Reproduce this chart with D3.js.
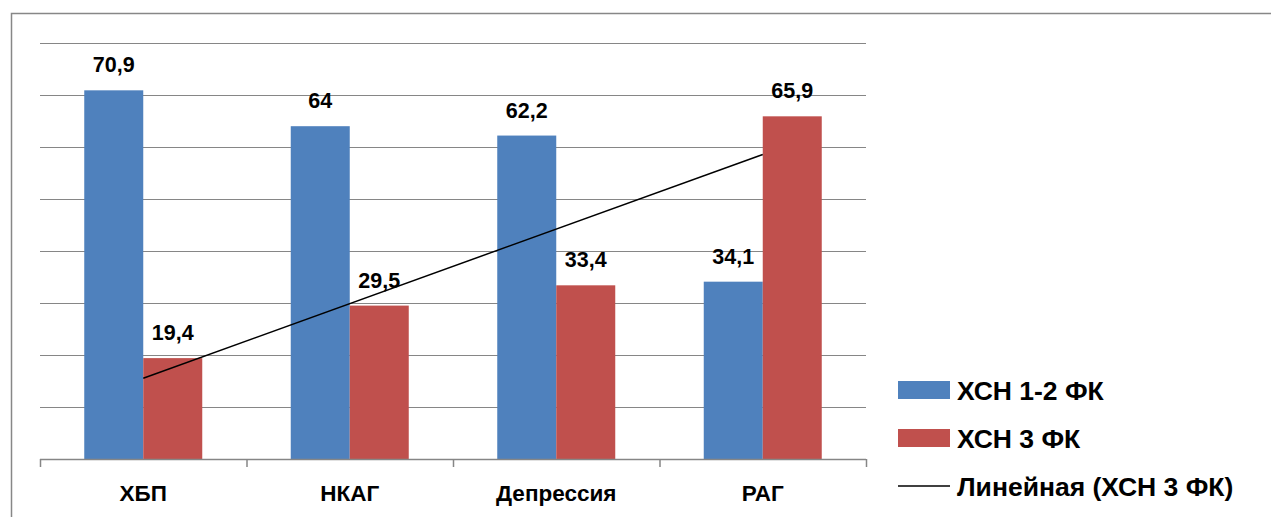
<!DOCTYPE html>
<html>
<head>
<meta charset="utf-8">
<script src="https://cdn.jsdelivr.net/npm/d3@7/dist/d3.min.js"></script>
<style>
  html, body { margin: 0; padding: 0; background: #fff; }
  svg { display: block; }
  text { font-family: "Liberation Sans", Arial, sans-serif; font-weight: bold; fill: #000; }
</style>
</head>
<body>
<svg id="chart" width="1271" height="517"></svg>
<script>
// Categories and series values
const categories = ["ХБП", "НКАГ", "Депрессия", "РАГ"];
const seriesNames = ["ХСН 1-2 ФК", "ХСН 3 ФК"];
const valuesFc12 = [70.9, 64, 62.2, 34.1];
const valuesFc3 = [19.4, 29.5, 33.4, 65.9];
const trendName = "Линейная (ХСН 3 ФК)";
const gridValues = [10, 20, 30, 40, 50, 60, 70, 80];

const colors = ["#4F81BD", "#C0504D"];
const series = [valuesFc12, valuesFc3];

const svg = d3.select("#chart");

// Outer chart frame
svg.append("rect")
  .attr("x", 11.5).attr("y", 13.5)
  .attr("width", 1300).attr("height", 600)
  .attr("fill", "none").attr("stroke", "#878787").attr("stroke-width", 1.5);

const plot = { left: 40, right: 866, top: 43, bottom: 459 };

const x0 = d3.scaleBand().domain(categories).range([plot.left, plot.right]).paddingInner(0).paddingOuter(0);
// Gap width 150%: each category = 2 bars + 1.5 bar widths of gap
const barW = x0.bandwidth() / 3.5;
const x1 = d3.scaleBand().domain(seriesNames).range([0.75 * barW, 2.75 * barW]).padding(0);

const y = d3.scaleLinear().domain([0, 80]).range([plot.bottom, plot.top]);

// Gridlines
svg.append("g").selectAll("line").data(gridValues).join("line")
  .attr("x1", plot.left).attr("x2", plot.right)
  .attr("y1", d => Math.round(y(d)) + 0.5).attr("y2", d => Math.round(y(d)) + 0.5)
  .attr("stroke", "#868686").attr("stroke-width", 1.2);

// Bars
const groups = svg.append("g").selectAll("g").data(categories).join("g")
  .attr("transform", d => `translate(${x0(d)},0)`);

groups.selectAll("rect")
  .data((c, i) => seriesNames.map((s, k) => ({ s, k, v: series[k][i] })))
  .join("rect")
  .attr("x", d => x1(d.s))
  .attr("width", x1.bandwidth())
  .attr("y", d => y(d.v))
  .attr("height", d => y(0) - y(d.v))
  .attr("fill", d => colors[d.k]);

// Value labels
groups.selectAll("text.val")
  .data((c, i) => seriesNames.map((s, k) => ({ s, k, v: series[k][i] })))
  .join("text")
  .attr("class", "val")
  .attr("x", d => x1(d.s) + x1.bandwidth() / 2)
  .attr("y", d => y(d.v) - 18)
  .attr("text-anchor", "middle")
  .attr("font-size", 21.5)
  .text(d => String(d.v).replace(".", ","));

// Category axis
const axisG = svg.append("g").attr("transform", `translate(0,${plot.bottom})`);
axisG.append("line")
  .attr("x1", plot.left).attr("x2", plot.right).attr("y1", 0.5).attr("y2", 0.5)
  .attr("stroke", "#868686").attr("stroke-width", 1.5);
const bounds = categories.map(c => x0(c)).concat([plot.right]);
axisG.selectAll("line.tick").data(bounds).join("line")
  .attr("class", "tick")
  .attr("x1", d => d + 0.5).attr("x2", d => d + 0.5)
  .attr("y1", 0).attr("y2", 8)
  .attr("stroke", "#868686").attr("stroke-width", 1.5);
axisG.selectAll("text.cat").data(categories).join("text")
  .attr("class", "cat")
  .attr("x", d => x0(d) + x0.bandwidth() / 2)
  .attr("y", 42)
  .attr("text-anchor", "middle")
  .attr("font-size", 22.5)
  .text(d => d);

// Linear trendline for the ХСН 3 ФК series (least squares over category index)
const xs = valuesFc3.map((_, i) => i + 1);
const mx = d3.mean(xs), my = d3.mean(valuesFc3);
const slope = d3.sum(xs, (xv, i) => (xv - mx) * (valuesFc3[i] - my)) / d3.sum(xs, xv => (xv - mx) ** 2);
const intercept = my - slope * mx;
const trendPts = [1, categories.length].map(xv => ({
  cx: x0(categories[xv - 1]) + x0.bandwidth() / 2,
  v: intercept + slope * xv
}));
svg.append("path")
  .datum(trendPts)
  .attr("d", d3.line().x(d => d.cx).y(d => y(d.v)))
  .attr("fill", "none").attr("stroke", "#000").attr("stroke-width", 1.5);

// Legend
const legend = svg.append("g");
const legendItems = [
  { name: seriesNames[0], type: "rect", color: colors[0], y: 390 },
  { name: seriesNames[1], type: "rect", color: colors[1], y: 438 },
  { name: trendName, type: "line", color: "#000", y: 486 }
];
legendItems.forEach(it => {
  if (it.type === "rect") {
    legend.append("rect").attr("x", 898).attr("y", it.y - 9).attr("width", 52).attr("height", 18).attr("fill", it.color);
  } else {
    legend.append("line").attr("x1", 898).attr("x2", 950).attr("y1", it.y).attr("y2", it.y)
      .attr("stroke", it.color).attr("stroke-width", 1.5);
  }
  legend.append("text").attr("x", 957).attr("y", it.y + 9.5).attr("font-size", 26.5).text(it.name);
});
</script>
</body>
</html>
